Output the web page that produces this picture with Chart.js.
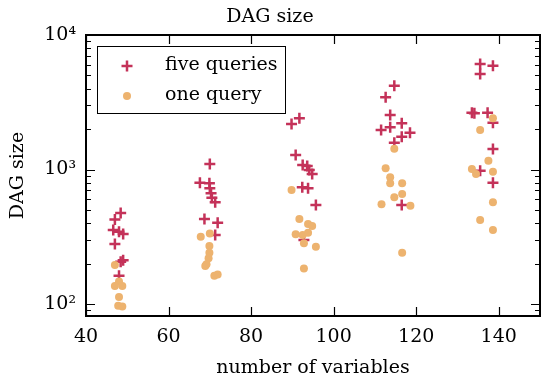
<!DOCTYPE html>
<html>
<head>
<meta charset="utf-8">
<script src="https://cdn.jsdelivr.net/npm/chart.js@4/dist/chart.umd.min.js"></script>
<style>
  html, body { margin: 0; padding: 0; background: #fff; }
  #plot { display: block; }
</style>
</head>
<body>
<canvas id="plot" width="541" height="384"></canvas>
<script>
// number of variables vs DAG size, one series per query count
const fiveX = [48.4, 47.0, 46.6, 48.0, 49.0, 47.0, 49.0, 48.4, 48.0,
  70.0, 67.6, 69.9, 70.0, 70.3, 70.5, 71.3, 68.7, 71.9, 71.3,
  89.8, 91.7, 90.8, 92.5, 93.6, 94.1, 94.8, 92.4, 93.8, 95.7, 92.8,
  114.7, 112.6, 113.7, 116.5, 113.7, 111.5, 118.5, 116.5, 114.7, 116.5,
  135.5, 138.6, 135.5, 133.5, 134.1, 137.3, 138.6, 138.6, 135.5, 138.6]
const fiveY = [475, 426, 355, 345, 331, 279, 212, 206, 162,
  1099, 798, 789, 725, 665, 617, 570, 428, 402, 326,
  2178, 2403, 1281, 1080, 1062, 991, 926, 737, 725, 545, 299,
  4198, 3441, 2544, 2206, 2060, 1966, 1878, 1754, 1582, 545,
  6086, 5911, 5129, 2644, 2617, 2644, 2229, 1420, 980, 798]

const oneX = [47.0, 48.0, 47.0, 48.8, 48.0, 47.8, 48.8,
  67.8, 70.0, 69.9, 69.9, 69.7, 69.2, 68.9, 71.1, 71.9,
  89.8, 91.7, 93.8, 94.8, 90.8, 92.5, 93.8, 92.8, 95.7, 92.8,
  114.7, 112.6, 113.7, 113.7, 116.6, 116.6, 114.7, 111.6, 118.6, 116.6,
  138.6, 135.5, 137.5, 133.5, 134.5, 138.6, 138.6, 135.5, 138.6]
const oneY = [195, 147, 136, 136, 113, 97, 96,
  317, 335, 270, 241, 219, 198, 192, 162, 166,
  704, 428, 393, 380, 330, 326, 339, 283, 267, 184,
  1428, 1021, 875, 789, 789, 657, 621, 551, 538, 241,
  2403, 1966, 1163, 1009, 926, 963, 570, 421, 355]

const seriesNames = ["five queries", "one query"]
const xTicks = [40, 60, 80, 100, 120, 140]
const yTickLabels = { 100: "10²", 1000: "10³", 10000: "10⁴" }

const RED = "#c43259"
const ORANGE = "#edb36f"
const FONT = "'DejaVu Serif', 'Liberation Serif', serif"
const FS = 19

function toPoints(xs, ys) {
  let pts = []
  for (let i = 0; i < xs.length; i++) pts.push({ x: xs[i], y: ys[i] })
  return pts
}

// inward ticks on all four sides, frame and legend box
const frameAndLegend = {
  id: "frameAndLegend",
  afterDraw(chart) {
    const ctx = chart.ctx
    const a = chart.chartArea
    const xs = chart.scales.x
    const ys = chart.scales.y
    ctx.save()
    ctx.strokeStyle = "#000"
    ctx.lineWidth = 1.2
    ctx.beginPath()
    xs.ticks.forEach(t => {
      if (xTicks.indexOf(t.value) < 0) return
      const px = Math.round(xs.getPixelForValue(t.value)) + 0.5
      ctx.moveTo(px, a.bottom); ctx.lineTo(px, a.bottom - 9)
      ctx.moveTo(px, a.top); ctx.lineTo(px, a.top + 9)
    })
    ys.ticks.forEach(t => {
      const v = t.value
      const e = Math.floor(Math.log10(v) + 1e-9)
      const m = v / Math.pow(10, e)
      if (Math.abs(m - Math.round(m)) > 1e-6) return
      const len = Math.round(m) === 1 ? 9 : 5
      const py = Math.round(ys.getPixelForValue(v)) + 0.5
      ctx.moveTo(a.left, py); ctx.lineTo(a.left + len, py)
      ctx.moveTo(a.right, py); ctx.lineTo(a.right - len, py)
    })
    ctx.stroke()

    ctx.lineWidth = 2
    ctx.strokeRect(a.left, a.top, a.right - a.left, a.bottom - a.top)

    // legend
    ctx.lineWidth = 1
    ctx.fillStyle = "#fff"
    ctx.fillRect(97.5, 46.5, 188, 67)
    ctx.strokeRect(97.5, 46.5, 188, 67)
    ctx.strokeStyle = RED
    ctx.lineWidth = 2.5
    ctx.beginPath()
    ctx.moveTo(121.5, 66); ctx.lineTo(132.5, 66)
    ctx.moveTo(127, 60.5); ctx.lineTo(127, 71.5)
    ctx.stroke()
    ctx.fillStyle = ORANGE
    ctx.beginPath()
    ctx.arc(127, 96, 4, 0, Math.PI * 2)
    ctx.fill()
    ctx.fillStyle = "#000"
    ctx.font = FS + "px " + FONT
    ctx.textBaseline = "middle"
    ctx.textAlign = "left"
    ctx.fillText(seriesNames[0], 165, 65)
    ctx.fillText(seriesNames[1], 165, 95)
    ctx.restore()
  }
}

new Chart(document.getElementById("plot"), {
  type: "scatter",
  data: {
    datasets: [
      {
        label: seriesNames[0],
        data: toPoints(fiveX, fiveY),
        pointStyle: "cross",
        pointRadius: 5.5,
        borderWidth: 2.5,
        borderColor: RED,
        backgroundColor: RED,
        order: 1
      },
      {
        label: seriesNames[1],
        data: toPoints(oneX, oneY),
        pointStyle: "circle",
        pointRadius: 4,
        borderWidth: 0,
        backgroundColor: ORANGE,
        order: 0
      }
    ]
  },
  options: {
    responsive: false,
    animation: false,
    layout: { autoPadding: false, padding: { right: 1 } },
    plugins: {
      legend: { display: false },
      tooltip: { enabled: false },
      title: {
        display: true,
        text: "DAG size",
        color: "#000",
        font: { family: FONT, size: FS, weight: "normal" },
        padding: { top: 6, bottom: 6.2 }
      }
    },
    scales: {
      x: {
        type: "linear",
        min: 40,
        max: 150,
        afterFit(scale) {
          scale.height = 68
          scale.paddingLeft = 0
          scale.paddingRight = 0
        },
        grid: { display: false, drawTicks: false },
        border: { display: false },
        ticks: {
          stepSize: 20,
          includeBounds: false,
          padding: 10,
          color: "#000",
          font: { family: FONT, size: FS },
          maxRotation: 0
        },
        title: {
          display: true,
          text: "number of variables",
          color: "#000",
          font: { family: FONT, size: FS },
          padding: { top: 0, bottom: 4.6 }
        }
      },
      y: {
        type: "logarithmic",
        min: 81.5,
        max: 10000,
        afterFit(scale) {
          scale.width = 86
          scale.paddingTop = 0
          scale.paddingBottom = 0
        },
        grid: { display: false, drawTicks: false },
        border: { display: false },
        ticks: {
          padding: 10,
          color: "#000",
          font: { family: FONT, size: FS },
          autoSkip: false,
          callback: v => yTickLabels[v] || ""
        },
        title: {
          display: true,
          text: "DAG size",
          color: "#000",
          font: { family: FONT, size: FS },
          padding: { top: 6.6, bottom: 0 }
        }
      }
    }
  },
  plugins: [frameAndLegend]
})
</script>
</body>
</html>
